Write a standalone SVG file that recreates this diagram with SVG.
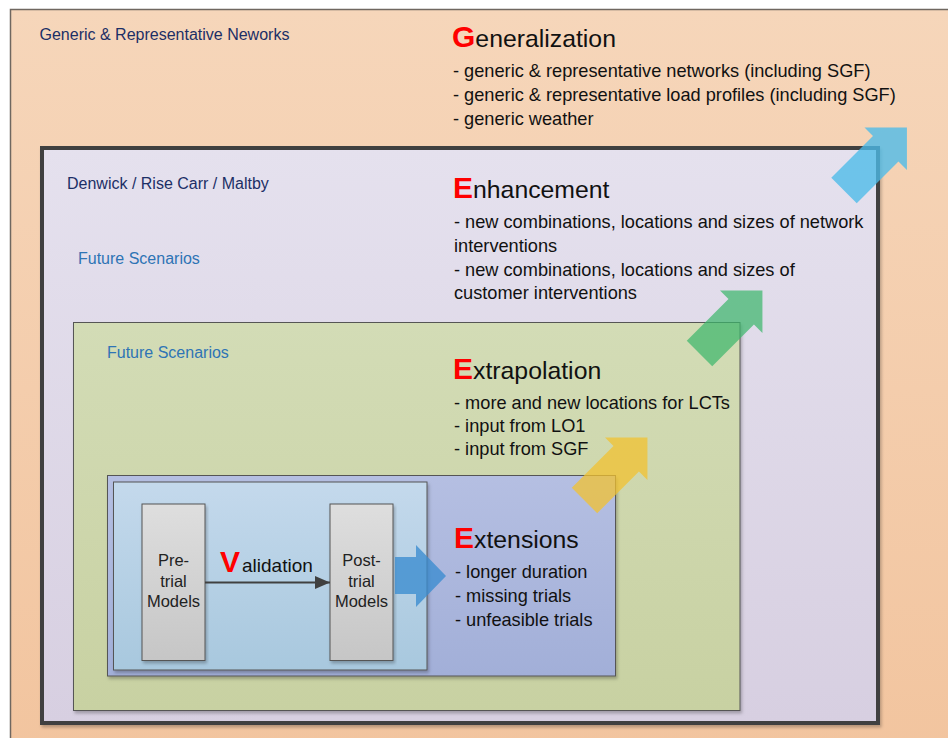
<svg xmlns="http://www.w3.org/2000/svg" width="948" height="738" viewBox="0 0 948 738">
  <defs>
    <linearGradient id="gPeach" x1="0" y1="0" x2="0" y2="1">
      <stop offset="0" stop-color="#f6d6ba"/>
      <stop offset="1" stop-color="#f2c49e"/>
    </linearGradient>
    <linearGradient id="gLav" x1="0" y1="0" x2="0" y2="1">
      <stop offset="0" stop-color="#e5e1ee"/>
      <stop offset="1" stop-color="#d7cfe1"/>
    </linearGradient>
    <linearGradient id="gGreen" x1="0" y1="0" x2="0" y2="1">
      <stop offset="0" stop-color="#d3dcb6"/>
      <stop offset="1" stop-color="#c8d1a2"/>
    </linearGradient>
    <linearGradient id="gBlue" x1="0" y1="0" x2="0" y2="1">
      <stop offset="0" stop-color="#b5bfe2"/>
      <stop offset="1" stop-color="#a2afd8"/>
    </linearGradient>
    <linearGradient id="gSky" x1="0" y1="0" x2="0" y2="1">
      <stop offset="0" stop-color="#c4d9ec"/>
      <stop offset="1" stop-color="#a8c8de"/>
    </linearGradient>
    <linearGradient id="gGrey" x1="0" y1="0" x2="0" y2="1">
      <stop offset="0" stop-color="#dedede"/>
      <stop offset="1" stop-color="#c6c6c6"/>
    </linearGradient>
    <filter id="shadow" x="-5%" y="-5%" width="110%" height="110%">
      <feDropShadow dx="1.5" dy="2.5" stdDeviation="1.5" flood-color="#000" flood-opacity="0.25"/>
    </filter>
    <marker id="arrowHead" viewBox="0 0 15 13" refX="15" refY="6.5" markerWidth="15" markerHeight="13" markerUnits="userSpaceOnUse" orient="auto">
      <path d="M0,0 L15,6.5 L0,13 Z" fill="#404040"/>
    </marker>
    <!-- block arrow pointing along +x, tail centre at origin -->
    <path id="blockArrow" d="M0,-18 L59,-18 L59,-30 L89,0 L59,30 L59,18 L0,18 Z"/>
    <style>
      text { font-family: "Liberation Sans", Arial, sans-serif; }
      .box { stroke: #555; stroke-width: 1; }
      .label { font-size: 16px; }
      .navy { fill: #1c2f66; }
      .sky { fill: #2e74b5; }
      .body { font-size: 18.2px; fill: #111; }
      .title { font-size: 24.8px; fill: #111; }
      .cap { font-size: 30px; font-weight: bold; fill: #ff0000; }
      .model { font-size: 16.5px; fill: #222; text-anchor: middle; }
    </style>
  </defs>

  <rect x="0" y="0" width="948" height="738" fill="#ffffff"/>

  <!-- outermost scope -->
  <g id="generic-networks">
    <rect x="10.5" y="9.5" width="960" height="760" fill="url(#gPeach)" stroke="#6f6760" stroke-width="1.5"/>
    <text class="label navy" x="39.5" y="40" font-size="15.8">Generic &amp; Representative Neworks</text>
  </g>

  <g id="generalization-text">
    <text class="title" x="452" y="47"><tspan class="cap">G</tspan><tspan>eneralization</tspan></text>
    <text class="body" x="453" y="77">- generic &amp; representative networks (including SGF)</text>
    <text class="body" x="453" y="101">- generic &amp; representative load profiles (including SGF)</text>
    <text class="body" x="453" y="125">- generic weather</text>
  </g>

  <!-- trial network scope -->
  <g id="trial-networks">
    <rect x="42" y="148" width="836" height="575" fill="url(#gLav)" stroke="#404040" stroke-width="4" filter="url(#shadow)"/>
    <text class="label navy" x="67" y="189" font-size="16.3">Denwick / Rise Carr / Maltby</text>
    <text class="label sky" x="78" y="264">Future Scenarios</text>
  </g>

  <g id="enhancement-text">
    <text class="title" x="453" y="198"><tspan class="cap">E</tspan><tspan>nhancement</tspan></text>
    <text class="body" x="454" y="228">- new combinations, locations and sizes of network</text>
    <text class="body" x="454" y="252">interventions</text>
    <text class="body" x="454" y="276">- new combinations, locations and sizes of</text>
    <text class="body" x="454" y="299">customer interventions</text>
  </g>

  <g id="future-scenarios">
    <rect class="box" x="73.5" y="322.5" width="666.5" height="388" fill="url(#gGreen)" filter="url(#shadow)"/>
    <text class="label sky" x="107" y="358">Future Scenarios</text>
  </g>

  <g id="extrapolation-text">
    <text class="title" x="453" y="379"><tspan class="cap">E</tspan><tspan>xtrapolation</tspan></text>
    <text class="body" x="454" y="409">- more and new locations for LCTs</text>
    <text class="body" x="454" y="432">- input from LO1</text>
    <text class="body" x="454" y="455">- input from SGF</text>
  </g>

  <g id="extensions">
    <rect class="box" x="107.5" y="475.5" width="508" height="200.5" fill="url(#gBlue)" filter="url(#shadow)"/>
    <text class="title" x="454" y="548"><tspan class="cap">E</tspan><tspan>xtensions</tspan></text>
    <text class="body" x="455" y="578">- longer duration</text>
    <text class="body" x="455" y="602">- missing trials</text>
    <text class="body" x="455" y="626">- unfeasible trials</text>
  </g>

  <g id="validation">
    <rect class="box" x="113.5" y="482" width="313.5" height="188" fill="url(#gSky)" filter="url(#shadow)"/>
  </g>

  <g id="pre-trial-models">
    <rect class="box" x="142" y="504" width="63" height="156.5" fill="url(#gGrey)" filter="url(#shadow)"/>
    <text class="model" x="173.5" y="566">Pre-</text>
    <text class="model" x="173.5" y="587">trial</text>
    <text class="model" x="173.5" y="607">Models</text>
  </g>

  <g id="post-trial-models">
    <rect class="box" x="330" y="504" width="63" height="156.5" fill="url(#gGrey)" filter="url(#shadow)"/>
    <text class="model" x="361.5" y="566">Post-</text>
    <text class="model" x="361.5" y="587">trial</text>
    <text class="model" x="361.5" y="607">Models</text>
  </g>

  <g id="connectors">
    <line x1="205" y1="582.5" x2="330" y2="582.5" stroke="#404040" stroke-width="2" marker-end="url(#arrowHead)"/>
    <text x="220" y="572" font-size="19" fill="#111"><tspan class="cap" font-size="32px">V</tspan><tspan dx="2">alidation</tspan></text>

    <path d="M395,557 L416,557 L416,545 L446,576 L416,607 L416,594 L395,594 Z" fill="#3a8ccf" fill-opacity="0.78"/>
    <use href="#blockArrow" transform="translate(584.5,500.5) rotate(-45)" fill="#f2c230" fill-opacity="0.75"/>
    <use href="#blockArrow" transform="translate(699.5,353.5) rotate(-45)" fill="#3db76c" fill-opacity="0.72"/>
    <use href="#blockArrow" transform="translate(844,190.5) rotate(-45)" fill="#4cbbe9" fill-opacity="0.78"/>
  </g>
</svg>
